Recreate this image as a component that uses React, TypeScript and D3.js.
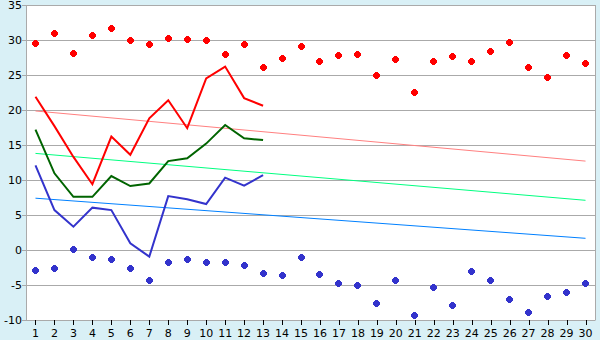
import React from "react";
import * as d3 from "d3";

const categories = d3.range(1, 31).map(String);
const yTicks = [-10, -5, 0, 5, 10, 15, 20, 25, 30, 35];

const maxPoints = [29.5, 31, 28.1, 30.7, 31.7, 30, 29.4, 30.2, 30.1, 30, 28, 29.4, 26, 27.4, 29, 27, 27.8, 28, 25, 27.2, 22.5, 27, 27.7, 27, 28.4, 29.7, 26, 24.7, 27.8, 26.7];
const minPoints = [-2.9, -2.6, 0.1, -1.05, -1.33, -2.6, -4.33, -1.76, -1.33, -1.76, -1.76, -2.19, -3.33, -3.62, -1.05, -3.48, -4.76, -5.05, -7.62, -4.33, -9.33, -5.33, -7.9, -3.05, -4.33, -7.05, -8.9, -6.62, -6.05, -4.76];

const redLine = [21.9, 17.7, 13.3, 9.4, 16.2, 13.6, 18.8, 21.4, 17.4, 24.5, 26.2, 21.7, 20.6];
const greenLine = [17.2, 10.95, 7.6, 7.6, 10.57, 9.14, 9.5, 12.7, 13.1, 15.2, 17.86, 15.95, 15.7];
const blueLine = [12.1, 5.7, 3.33, 6.05, 5.7, 0.95, -0.95, 7.7, 7.24, 6.57, 10.33, 9.19, 10.7];

const redTrend = [19.86, 12.7];
const greenTrend = [13.8, 7.1];
const blueTrend = [7.4, 1.67];

const W = 600, H = 340;
const L = 26, R = 595, T = 5, B = 320;

export default function App() {
  const x = d3.scaleBand().domain(categories).range([L, R]);
  const xc = (c: string) => (x(c) as number) + x.bandwidth() / 2;
  const y = d3.scaleLinear().domain([-10, 35]).range([B, T]);

  const line = d3.line<number>().x((_, i) => xc(categories[i])).y((d) => y(d));
  const trend = (t: number[]) =>
    `M${xc(categories[0])},${y(t[0])}L${xc(categories[29])},${y(t[1])}`;

  const marker = "M-1,-3H2V-2H3V-1H4V2H3V3H2V4H-1V3H-2V2H-3V-1H-2V-2H-1Z";

  const font = "DejaVu Sans, Verdana, sans-serif";

  return (
    <svg width={W} height={H} style={{ position: "absolute", left: 0, top: 0 }}>
      <rect x={0} y={0} width={W} height={H} fill="#d9f0f6" />
      <rect x={L} y={T} width={R - L} height={B - T} fill="#ffffff" />
      {yTicks.map((t) => (
        <g key={t}>
          <line x1={L - 4} x2={R} y1={y(t) + 0.5} y2={y(t) + 0.5} stroke="#aaaaaa" strokeWidth={1} />
          <text x={L - 4} y={y(t)} dy="0.35em" textAnchor="end" fontFamily={font} fontSize={11} fill="#000">
            {t}
          </text>
        </g>
      ))}
      <line x1={L + 0.5} x2={L + 0.5} y1={T} y2={B} stroke="#aaaaaa" />
      <line x1={R + 0.5} x2={R + 0.5} y1={T} y2={B + 0.5} stroke="#aaaaaa" />
      {categories.map((c) => (
        <g key={c}>
          <line x1={Math.round(xc(c)) + 0.5} x2={Math.round(xc(c)) + 0.5} y1={B} y2={B + 5} stroke="#000" />
          <text x={xc(c)} y={B + 13} dy="0.35em" textAnchor="middle" fontFamily={font} fontSize={11} fill="#000">
            {c}
          </text>
        </g>
      ))}
      <path d={trend(redTrend)} fill="none" stroke="#ff8080" strokeWidth={1} />
      <path d={trend(greenTrend)} fill="none" stroke="#00ff80" strokeWidth={1} />
      <path d={trend(blueTrend)} fill="none" stroke="#0080ff" strokeWidth={1} />
      <path d={line(redLine) as string} fill="none" stroke="#ff0000" strokeWidth={2} />
      <path d={line(greenLine) as string} fill="none" stroke="#006400" strokeWidth={2} />
      <path d={line(blueLine) as string} fill="none" stroke="#3333cc" strokeWidth={2} />
      {maxPoints.map((v, i) => (
        <path key={"mx" + i} d={marker} shapeRendering="crispEdges" transform={`translate(${Math.floor(xc(categories[i]))},${Math.floor(y(v))})`} fill="#ff0000" />
      ))}
      {minPoints.map((v, i) => (
        <path key={"mn" + i} d={marker} shapeRendering="crispEdges" transform={`translate(${Math.floor(xc(categories[i]))},${Math.floor(y(v))})`} fill="#3333cc" />
      ))}
    </svg>
  );
}
